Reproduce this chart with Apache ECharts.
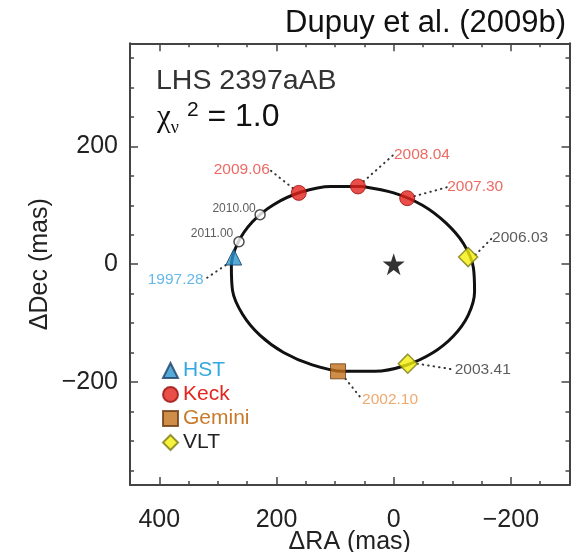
<!DOCTYPE html>
<html><head><meta charset="utf-8">
<script src="https://cdn.jsdelivr.net/npm/echarts@6/dist/echarts.min.js"></script>
<style>html,body{margin:0;padding:0;background:#fff}#c{width:580px;height:552px}</style>
</head><body><div id="c"></div>
<script>
// Orbit curve (ΔRA, ΔDec in mas)
const orbitRA  = [53, 0, -49, -89, -119, -136, -138, -127, -102, -66, -20, 32, 86, 139, 188, 228, 258, 275, 277, 266, 241, 205, 159, 107, 53];
const orbitDec = [132, 121, 100, 70, 35, -6, -47, -87, -122, -151, -172, -182, -182, -171, -150, -121, -85, -45, -3, 36, 72, 101, 122, 132, 132];
// Measurements
const hstRA = [273], hstDec = [12], hstEpoch = ['1997.28'];
const keckRA = [162, 61, -23], keckDec = [121, 132, 112], keckEpoch = ['2009.06', '2008.04', '2007.30'];
const geminiRA = [95], geminiDec = [-182], geminiEpoch = ['2002.10'];
const vltRA = [-127, -24], vltDec = [12, -169], vltEpoch = ['2006.03', '2003.41'];
const predRA = [228, 264], predDec = [84, 38], predEpoch = ['2010.00', '2011.00'];
const primaryRA = [0], primaryDec = [0];
// Ticks
const xTicks = [400, 200, 0, -200];
const yTicks = [200, 0, -200];
const xMinorTicks = [-250,-200,-150,-100,-50,0,50,100,150,200,250,300,350,400];
const yMinorTicks = [-350,-300,-250,-200,-150,-100,-50,0,50,100,150,200,250,300,350];

// label offsets (px) from the marker centre — layout only
const labelOffset = {
  '1997.28': [-58, 23], '2009.06': [-57, -23], '2008.04': [64, -32], '2007.30': [68, -11],
  '2006.03': [52, -19], '2003.41': [75, 6], '2002.10': [52, 28], '2010.00': [-26, -6], '2011.00': [-27, -8]
};

const FONT = 'Liberation Sans, Arial, Helvetica, sans-serif';
const SERIF = 'Liberation Serif, Times New Roman, serif';
const pairs = (xs, ys, names) => xs.map((x, i) => names ? { value: [x, ys[i]], name: names[i] } : [x, ys[i]]);
const minus = v => String(v).replace('-', '\u2212');

const frameColor = '#444';
function xAxisCfg(pos, ticks, len, showLine, showLabel) {
  return {
    type: 'value', position: pos, inverse: true, min: -300, max: 450,
    axisLine: { show: showLine, onZero: false, lineStyle: { color: frameColor, width: 2 } },
    axisTick: { show: true, inside: true, length: len, customValues: ticks, lineStyle: { color: frameColor, width: 1.5 } },
    axisLabel: showLabel ? { show: true, customValues: xTicks, formatter: minus, fontSize: 25, color: '#222', fontFamily: FONT, margin: 23 } : { show: false },
    splitLine: { show: false }
  };
}
function yAxisCfg(pos, ticks, len, showLine, showLabel) {
  return {
    type: 'value', position: pos, min: -375, max: 375,
    axisLine: { show: showLine, onZero: false, lineStyle: { color: frameColor, width: 2 } },
    axisTick: { show: true, inside: true, length: len, customValues: ticks, lineStyle: { color: frameColor, width: 1.5 } },
    axisLabel: showLabel ? { show: true, customValues: yTicks, formatter: minus, fontSize: 25, color: '#222', fontFamily: FONT, margin: 12 } : { show: false },
    splitLine: { show: false }
  };
}

const xMain = xAxisCfg('bottom', xMinorTicks, 4, true, true);
xMain.name = '\u0394RA (mas)';
xMain.nameLocation = 'middle';
xMain.nameGap = 45;
xMain.nameMoveOverlap = false;
xMain.nameTextStyle = { fontSize: 25, color: '#222', fontFamily: FONT };
const yMain = yAxisCfg('left', yMinorTicks, 4, true, true);
yMain.name = '\u0394Dec (mas)';
yMain.nameLocation = 'middle';
yMain.nameGap = 77;
yMain.nameMoveOverlap = false;
yMain.nameTextStyle = { fontSize: 25, color: '#222', fontFamily: FONT };

const labelLayout = p => { const o = labelOffset[p.text]; return o ? { dx: o[0], dy: o[1] } : {}; };
const leader = { show: true, lineStyle: { color: '#333', width: 2, type: [0.5, 5], cap: 'round' } };
const epochLabel = (color, size) => ({ show: true, position: 'inside', formatter: '{b}', color: color, fontSize: size, fontFamily: FONT });

const chart = echarts.init(document.getElementById('c'));
chart.setOption({
  animation: false,
  backgroundColor: '#fff',
  grid: { left: 130, right: 10.5, top: 43.3, bottom: 67, containLabel: false, outerBoundsMode: 'none' },
  xAxis: [
    xMain,
    xAxisCfg('bottom', xTicks, 8, false, false),
    xAxisCfg('top', xMinorTicks, 4, true, false),
    xAxisCfg('top', xTicks, 8, false, false)
  ],
  yAxis: [
    yMain,
    yAxisCfg('left', yTicks, 8, false, false),
    yAxisCfg('right', yMinorTicks, 4, true, false),
    yAxisCfg('right', yTicks, 8, false, false)
  ],
  legend: {
    orient: 'vertical', left: 157, top: 355, itemGap: 3, itemWidth: 15, itemHeight: 15,
    selectedMode: false,
    textStyle: { fontSize: 21, fontFamily: FONT },
    data: [
      { name: 'HST', textStyle: { color: '#35a8e0' } },
      { name: 'Keck', textStyle: { color: '#e3261f' } },
      { name: 'Gemini', textStyle: { color: '#c87a2a' } },
      { name: 'VLT', textStyle: { color: '#222' } }
    ]
  },
  graphic: [
    { type: 'text', right: 14, top: 8, style: { text: 'Dupuy et al. (2009b)', fontSize: 31, fontFamily: FONT, fill: '#111' } },
    { type: 'text', left: 156, top: 67, style: { text: 'LHS 2397aAB', fontSize: 28.5, fontFamily: FONT, fill: '#333' } },
    { type: 'text', left: 157, top: 100, style: {
        text: '{c|\u03c7}{s|\u03bd}{p|2}{t| = 1.0}',
        rich: {
          c: { fontSize: 31, fontFamily: SERIF, fill: '#111', verticalAlign: 'bottom' },
          s: { fontSize: 18, fontFamily: SERIF, fill: '#111', padding: [0, 0, -4, 0], verticalAlign: 'bottom' },
          p: { fontSize: 21, fontFamily: FONT, fill: '#111', padding: [0, 0, 12, 8], verticalAlign: 'bottom' },
          t: { fontSize: 32, fontFamily: FONT, fill: '#111', verticalAlign: 'bottom' }
        }
      } }
  ],
  series: [
    { type: 'line', name: 'orbit', data: pairs(orbitRA, orbitDec), smooth: 0.33, showSymbol: false,
      lineStyle: { color: '#111', width: 3 }, z: 1, silent: true },
    { type: 'scatter', name: 'predicted', data: pairs(predRA, predDec, predEpoch), symbol: 'circle', symbolSize: 10,
      itemStyle: { color: '#fff', borderColor: '#222', borderWidth: 1.5 },
      label: epochLabel('#333', 12), labelLayout: labelLayout, z: 3 },
    { type: 'scatter', name: 'HST', data: pairs(hstRA, hstDec, hstEpoch), symbol: 'triangle', symbolSize: 16,
      itemStyle: { color: '#2a93cc', borderColor: '#1a3f66', borderWidth: 1 },
      label: epochLabel('#3ea6e0', 15.5), labelLayout: labelLayout, labelLine: leader, z: 3 },
    { type: 'scatter', name: 'Keck', data: pairs(keckRA, keckDec, keckEpoch), symbol: 'circle', symbolSize: 15,
      itemStyle: { color: '#e3221c', borderColor: '#9a1010', borderWidth: 1 },
      label: epochLabel('#e8453c', 15.5), labelLayout: labelLayout, labelLine: leader, z: 3 },
    { type: 'scatter', name: 'Gemini', data: pairs(geminiRA, geminiDec, geminiEpoch), symbol: 'rect', symbolSize: 15,
      itemStyle: { color: '#c2711c', borderColor: '#6b3a10', borderWidth: 1 },
      label: epochLabel('#e8944a', 15.5), labelLayout: labelLayout, labelLine: leader, z: 3 },
    { type: 'scatter', name: 'VLT', data: pairs(vltRA, vltDec, vltEpoch), symbol: 'diamond', symbolSize: 19,
      itemStyle: { color: '#f5f00c', borderColor: '#7a7a18', borderWidth: 1.5 },
      label: epochLabel('#333', 15.5), labelLayout: labelLayout, labelLine: leader, z: 3 },
    { type: 'scatter', name: 'primary', data: pairs(primaryRA, primaryDec),
      symbol: 'path://M50,0 L61.8,35.1 L98.9,35.5 L69.1,57.6 L80.2,93.1 L50,71.5 L19.8,93.1 L30.9,57.6 L1.1,35.5 L38.2,35.1 Z',
      symbolSize: 22, itemStyle: { color: '#000' }, z: 3 }
  ]
});
</script></body></html>
